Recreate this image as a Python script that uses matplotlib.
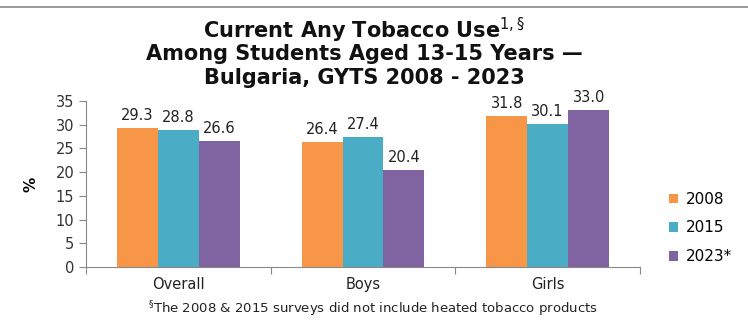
import matplotlib
matplotlib.use("Agg")
import matplotlib.pyplot as plt
import numpy as np

categories = ["Overall", "Boys", "Girls"]
series_names = ["2008", "2015", "2023*"]
v2008 = [29.3, 26.4, 31.8]
v2015 = [28.8, 27.4, 30.1]
v2023 = [26.6, 20.4, 33.0]
colors = ["#F79646", "#4BACC6", "#8064A2"]

W, H = 748, 322
fig = plt.figure(figsize=(W/100, H/100), dpi=100)
ax = fig.add_axes([86/W, 1-267/H, (640-86)/W, (267-101)/H])

x = np.arange(len(categories))
bw = 0.222
for i, (vals, name, c) in enumerate(zip([v2008, v2015, v2023], series_names, colors)):
    bars = ax.bar(x + (i-1)*bw, vals, bw, color=c, label=name)
    for b, v in zip(bars, vals):
        ax.text(b.get_x()+b.get_width()/2, v+1.1, f"{v:.1f}", ha="center", va="bottom",
                fontsize=10.5, color="#222222")

ax.set_xlim(-0.5, 2.5)
ax.set_ylim(0, 35)
ax.set_yticks(range(0, 36, 5))
ax.set_xticks([-0.5, 0.5, 1.5, 2.5], minor=False)
ax.set_xticklabels([])
ax.set_xticks(x, minor=True)
ax.set_xticklabels(categories, minor=True, fontsize=10.5, color="#222222")
ax.tick_params(axis="x", which="minor", length=0, pad=7)
ax.tick_params(axis="x", which="major", length=5, color="#888888", direction="out")
ax.tick_params(axis="y", length=5, color="#888888", labelsize=10.5, labelcolor="#333333")
for s in ["top", "right"]:
    ax.spines[s].set_visible(False)
for s in ["left", "bottom"]:
    ax.spines[s].set_color("#888888")
ax.set_ylabel("%", fontsize=11, fontweight="bold", labelpad=12)

leg = ax.legend(loc="center left", bbox_to_anchor=(655/W, 1-228/H), bbox_transform=fig.transFigure,
                frameon=False, fontsize=11, handlelength=0.6, handleheight=0.6,
                labelspacing=0.9, handletextpad=0.5)

tkw = dict(ha="center", va="center", fontsize=15, fontweight="bold", color="#111111")
cx = 0.5 - 10/W
fig.text(cx, 1-30/H, "Current Any Tobacco Use$^{1,\\S}$", **tkw)
fig.text(cx, 1-54/H, "Among Students Aged 13-15 Years \u2014", **tkw)
fig.text(cx, 1-78/H, "Bulgaria, GYTS 2008 - 2023", **tkw)
fig.text(0.5 - 1/W, 1-309/H, "$^{\\S}$The 2008 & 2015 surveys did not include heated tobacco products",
         ha="center", va="center", fontsize=9.5, color="#222222")

fig.add_artist(plt.Line2D([0, 1], [1-7/H, 1-7/H], color="#888888", lw=1.2, transform=fig.transFigure))

fig.savefig("out.png", dpi=100)
